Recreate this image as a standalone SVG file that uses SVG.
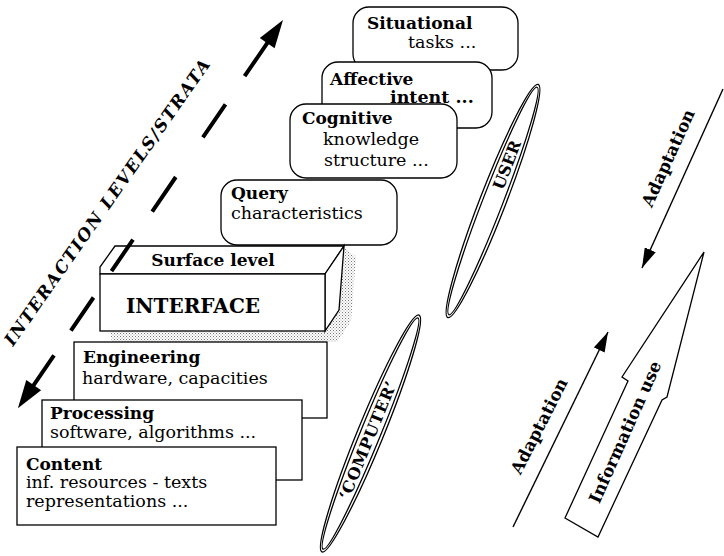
<svg xmlns="http://www.w3.org/2000/svg" width="724" height="556" viewBox="0 0 724 556">
<style>
.box{fill:#fff;stroke:#000;stroke-width:1.3}
.t{font-family:"DejaVu Serif","Liberation Serif",serif;font-size:17.5px;fill:#000}
.b{font-weight:bold;font-size:17px}
.dash{stroke:#000;stroke-width:4;fill:none}
.thin{stroke:#000;stroke-width:1.4;fill:none}
.ell{fill:none;stroke:#000;stroke-width:1.3}
.head{fill:#000;stroke:none}
</style>
<defs>
<pattern id="dots" width="3" height="3" patternUnits="userSpaceOnUse"><rect width="3" height="3" fill="#fff"/><rect width="1" height="1" fill="#777"/><rect x="1.5" y="1.5" width="1" height="1" fill="#999"/></pattern>
<marker id="ah" viewBox="0 0 20 12" refX="20" refY="6" markerWidth="20" markerHeight="12" markerUnits="userSpaceOnUse" orient="auto"><path d="M0,0 L20,6 L0,12 z" fill="#000"/></marker>
</defs>

<g id="situational">
<rect class="box" x="353" y="7" width="165" height="63" rx="16"/>
<text class="t b" x="367" y="29">Situational</text>
<text class="t" x="408" y="48">tasks ...</text>
</g>
<g id="affective">
<rect class="box" x="322" y="62" width="170" height="66" rx="16"/>
<text class="t b" x="330" y="85">Affective</text>
<text class="t" x="390" y="103" font-weight="bold">intent ...</text>
</g>
<g id="cognitive">
<rect class="box" x="290" y="104" width="167" height="74" rx="16"/>
<text class="t b" x="302" y="124">Cognitive</text>
<text class="t" x="323" y="145">knowledge</text>
<text class="t" x="324" y="166">structure ...</text>
</g>
<g id="query">
<rect class="box" x="221" y="180" width="176" height="65" rx="16"/>
<text class="t b" x="231" y="199">Query</text>
<text class="t" x="231" y="219">characteristics</text>
</g>

<g id="interface">
<polygon points="110,331 112,342 337,342 351,321 356,257 344,247 339,310 325,331" fill="url(#dots)"/>
<polygon class="box" points="100,274 100,267 115,246 344,246 325,274"/>
<polygon class="box" points="325,274 344,246 339,310 325,331"/>
<rect class="box" x="100" y="274" width="225" height="57"/>
<text class="t b" x="213" y="266" text-anchor="middle">Surface level</text>
<text class="t b" x="193" y="313" text-anchor="middle" style="font-size:20px">INTERFACE</text>
</g>

<g id="engineering">
<rect class="box" x="74" y="342" width="253" height="76"/>
<text class="t b" x="83" y="363">Engineering</text>
<text class="t" x="82" y="384">hardware, capacities</text>
</g>
<g id="processing">
<rect class="box" x="42" y="400" width="260" height="80"/>
<text class="t b" x="50" y="419">Processing</text>
<text class="t" x="50" y="438">software, algorithms ...</text>
</g>
<g id="content">
<rect class="box" x="17" y="447" width="259" height="78"/>
<text class="t b" x="26" y="470">Content</text>
<text class="t" x="26" y="488">inf. resources - texts</text>
<text class="t" x="26" y="507">representations ...</text>
</g>

<g id="user">
<g transform="translate(493,201) rotate(-68.8)">
<ellipse class="ell" rx="125" ry="13"/>
<ellipse class="ell" rx="122" ry="10"/>
</g>
<text class="t b" text-anchor="middle" transform="translate(507,165) rotate(-68.8)" y="5.5" style="font-size:16px">USER</text>
</g>
<g id="computer">
<g transform="translate(370.5,433.5) rotate(-67.7)">
<ellipse class="ell" rx="128" ry="13"/>
<ellipse class="ell" rx="125" ry="10"/>
</g>
<text class="t b" text-anchor="middle" transform="translate(368,440) rotate(-67.7)" y="5.5" letter-spacing="0.8" style="font-size:16px">‘COMPUTER’</text>
</g>

<g id="strata-label">
<text class="t b" font-style="italic" transform="translate(13,347) rotate(-55)" textLength="345" lengthAdjust="spacing">INTERACTION  LEVELS/STRATA</text>
</g>

<g id="information-use">
<polygon class="box" points="704,252 622,377 628,381 565,518 598,537 662,400 667,397"/>
<text class="t b" text-anchor="middle" transform="translate(625,432) rotate(-66)" y="6">Information use</text>
</g>

<g id="connectors">
<path class="dash" d="M272.7,35.1 L244.6,76.2 M225.5,104.3 L202.9,137.3 M175.8,177 L152.2,211.6 M133,239.7 L111.5,271.1 M93.5,297.5 L70.9,330.6 M54,355.4 L28.2,393.1"/>
<polygon class="head" points="283,20 274.6,48.2 259.8,38"/>
<polygon class="head" points="17.9,408.2 41.1,390.2 26.3,380"/>
<line class="thin" x1="723" y1="89" x2="642" y2="268" marker-end="url(#ah)"/>
<line class="thin" x1="513" y1="527" x2="608" y2="332" marker-end="url(#ah)"/>
</g>
<text class="t b" text-anchor="middle" transform="translate(668,158) rotate(-65.5)" y="6">Adaptation</text>
<text class="t b" text-anchor="middle" transform="translate(539,426) rotate(-63)" y="6">Adaptation</text>
</svg>
